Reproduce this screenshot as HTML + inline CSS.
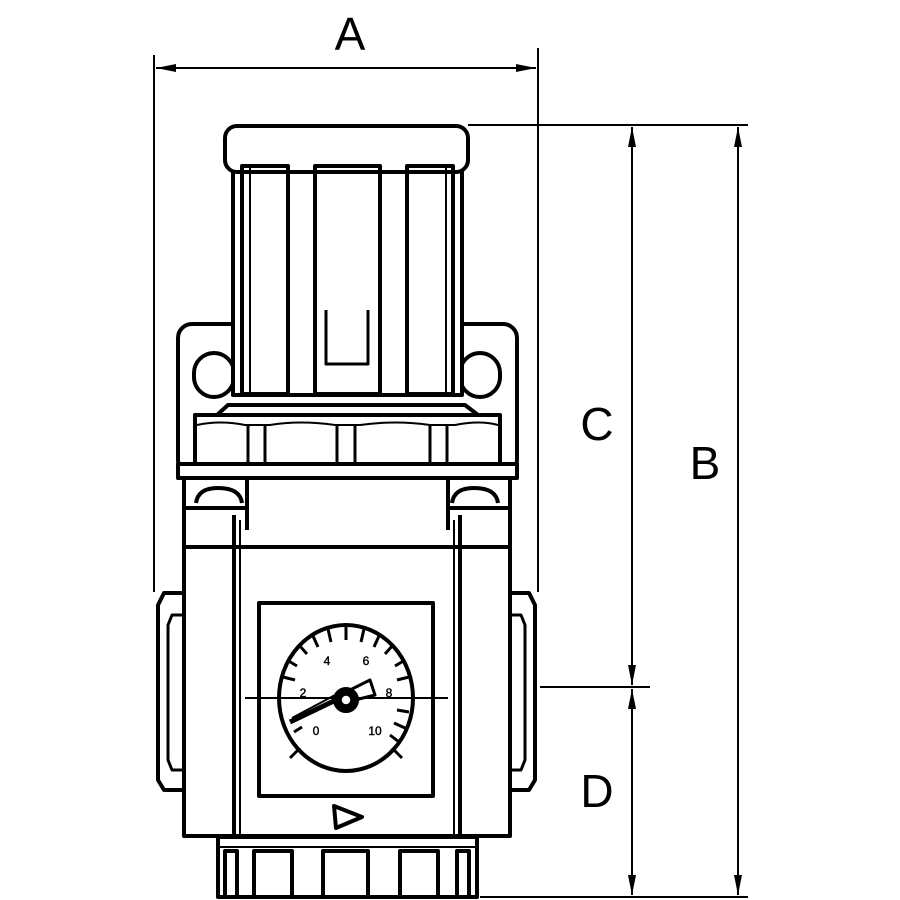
<!DOCTYPE html>
<html><head><style>html,body{margin:0;padding:0;background:#fff}svg{display:block}</style></head>
<body>
<svg width="900" height="900" viewBox="0 0 900 900" xmlns="http://www.w3.org/2000/svg">
<defs>
<marker id="ar" viewBox="0 0 20 10" refX="20" refY="5" markerWidth="20" markerHeight="10" markerUnits="userSpaceOnUse" orient="auto-start-reverse"><path d="M0,1 L20,5 L0,9 Z" fill="#000"/></marker>
</defs>
<g stroke="#000" fill="none" stroke-width="2">
<line x1="154" y1="55" x2="154" y2="592"/>
<line x1="538" y1="48" x2="538" y2="592"/>
<line x1="156" y1="68" x2="536" y2="68" marker-start="url(#ar)" marker-end="url(#ar)"/>
<line x1="468" y1="125" x2="748" y2="125"/>
<line x1="480" y1="897" x2="748" y2="897"/>
<line x1="738" y1="127" x2="738" y2="895" marker-start="url(#ar)" marker-end="url(#ar)"/>
<line x1="540" y1="687" x2="650" y2="687"/>
<line x1="632" y1="127" x2="632" y2="685" marker-start="url(#ar)" marker-end="url(#ar)"/>
<line x1="632" y1="689" x2="632" y2="895" marker-start="url(#ar)" marker-end="url(#ar)"/>
</g>
<g stroke="#000" fill="none" stroke-width="4" stroke-linejoin="round">
<rect x="178" y="324" width="339" height="150" rx="14"/>
<rect x="194" y="353" width="40" height="44" rx="20"/>
<rect x="460" y="353" width="40" height="44" rx="20"/>
<path d="M233,168 L233,395 L462,395 L462,168" fill="#fff"/>
<rect x="225" y="126" width="243" height="46" rx="12" fill="#fff"/>
<rect x="242" y="166" width="46" height="228"/>
<line x1="250" y1="168" x2="250" y2="392" stroke-width="2"/>
<rect x="315" y="166" width="65" height="228"/>
<path d="M326,310 L326,364 L368,364 L368,310" stroke-width="3"/>
<rect x="407" y="166" width="46" height="228"/>
<line x1="446" y1="168" x2="446" y2="392" stroke-width="2"/>
<path d="M228,405 L465,405 L478,415 L217,415 Z" fill="#fff"/>
<rect x="195" y="415" width="305" height="50" fill="#fff"/>
<path d="M197,425 Q220,420 245,425 L270,425 Q300,420 335,425 L360,425 Q395,420 430,425 L455,425 Q480,420 498,425" stroke-width="2"/>
<line x1="248" y1="425" x2="248" y2="465" stroke-width="3"/>
<line x1="265" y1="425" x2="265" y2="465" stroke-width="3"/>
<line x1="337" y1="425" x2="337" y2="465" stroke-width="3"/>
<line x1="355" y1="425" x2="355" y2="465" stroke-width="3"/>
<line x1="430" y1="425" x2="430" y2="465" stroke-width="3"/>
<line x1="447" y1="425" x2="447" y2="465" stroke-width="3"/>
<rect x="178" y="464" width="339" height="14" fill="#fff"/>
<rect x="184" y="478" width="326" height="358" fill="#fff"/>
<line x1="247" y1="480" x2="247" y2="530"/>
<line x1="448" y1="480" x2="448" y2="530"/>
<line x1="186" y1="508" x2="245" y2="508"/>
<line x1="450" y1="508" x2="508" y2="508"/>
<path d="M196,503 Q198,488 218,488 Q240,488 242,503"/>
<path d="M452,503 Q454,488 474,488 Q496,488 498,503"/>
<line x1="186" y1="547" x2="508" y2="547"/>
<line x1="234" y1="515" x2="234" y2="834"/>
<line x1="240" y1="520" x2="240" y2="834" stroke-width="2"/>
<line x1="460" y1="515" x2="460" y2="834"/>
<line x1="454" y1="520" x2="454" y2="834" stroke-width="2"/>
<path d="M183,593 L164,593 L158,605 L158,780 L164,790 L183,790"/>
<path d="M183,615 L172,615 L168,625 L168,760 L172,770 L183,770" stroke-width="3"/>
<path d="M510,593 L529,593 L535,605 L535,780 L529,790 L510,790"/>
<path d="M510,615 L521,615 L525,625 L525,760 L521,770 L510,770" stroke-width="3"/>
<rect x="259" y="603" width="174" height="193"/>
<ellipse cx="346" cy="698" rx="67" ry="73"/>
<line x1="245" y1="698" x2="448" y2="698" stroke-width="2"/>
<g stroke-width="3">
<line x1="300" y1="748" x2="290" y2="758"/>
<line x1="392" y1="748" x2="402" y2="758"/>
<line x1="346" y1="626" x2="346" y2="640"/>
<line x1="328" y1="629" x2="331" y2="642"/>
<line x1="364" y1="629" x2="361" y2="642"/>
<line x1="313" y1="636" x2="318" y2="647"/>
<line x1="379" y1="636" x2="374" y2="647"/>
<line x1="299" y1="645" x2="307" y2="654"/>
<line x1="393" y1="645" x2="385" y2="654"/>
<line x1="287" y1="660" x2="297" y2="666"/>
<line x1="405" y1="660" x2="395" y2="666"/>
<line x1="283" y1="677" x2="295" y2="680"/>
<line x1="409" y1="677" x2="397" y2="680"/>
<line x1="409" y1="712" x2="397" y2="710"/>
<line x1="405" y1="728" x2="394" y2="723"/>
<line x1="399" y1="742" x2="390" y2="735"/>
<line x1="294" y1="732" x2="302" y2="727"/>
</g>
<path d="M290,722 L340,698" stroke-width="5"/>
<path d="M292,718 L337,694" stroke-width="2"/>
<path d="M350,690 L370,680 L375,695 L355,700" stroke-width="3"/>
<circle cx="346" cy="700" r="11" fill="#000"/>
<circle cx="346" cy="700" r="5" fill="#fff" stroke-width="1.5"/>
<path d="M334,806 L362,817 L336,828 Z" stroke-width="4"/>
<rect x="218" y="837" width="259" height="60" fill="#fff"/>
<line x1="220" y1="847" x2="475" y2="847" stroke-width="2"/>
<rect x="225" y="851" width="12" height="46"/>
<rect x="254" y="851" width="38" height="46"/>
<rect x="323" y="851" width="45" height="46"/>
<rect x="400" y="851" width="38" height="46"/>
<rect x="457" y="851" width="12" height="46"/>
</g>
<g font-family="Liberation Sans, sans-serif" fill="#000">
<text x="350" y="50" font-size="46" text-anchor="middle">A</text>
<text x="705" y="479" font-size="46" text-anchor="middle">B</text>
<text x="597" y="440" font-size="46" text-anchor="middle">C</text>
<text x="597" y="807" font-size="46" text-anchor="middle">D</text>
<g font-size="12" text-anchor="middle" stroke="#000" stroke-width="0.4">
<text x="327" y="665">4</text><text x="366" y="665">6</text>
<text x="303" y="697">2</text><text x="389" y="697">8</text>
<text x="316" y="735">0</text><text x="375" y="735">10</text>
</g>
</g>
</svg>
</body></html>
